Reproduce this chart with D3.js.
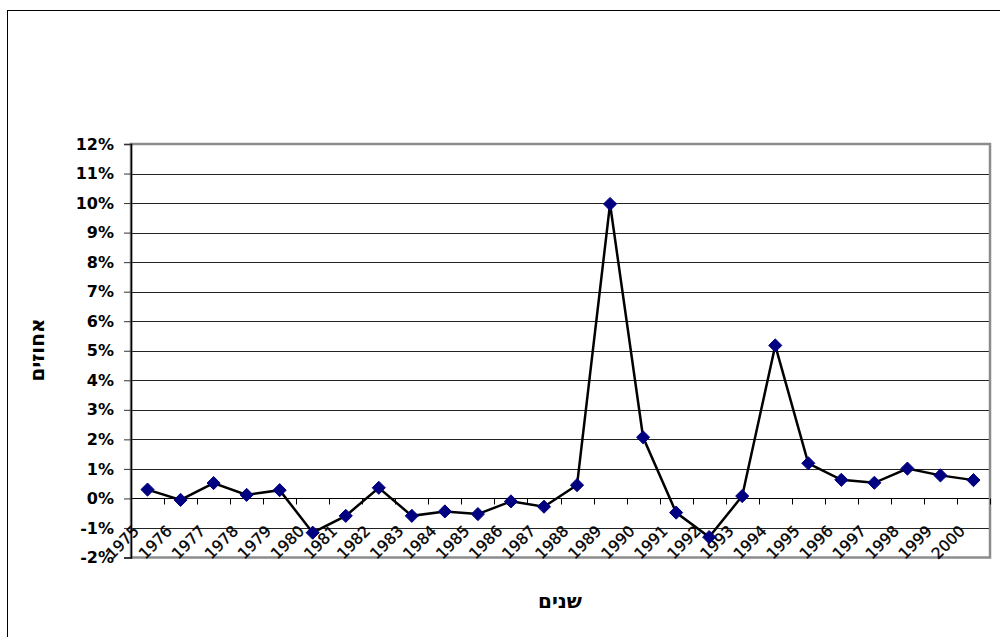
<!DOCTYPE html>
<html>
<head>
<meta charset="utf-8">
<script src="https://cdn.jsdelivr.net/npm/d3@7"></script>
<style>
  html, body { margin: 0; padding: 0; background: #fff; }
  svg { display: block; }
</style>
</head>
<body>
<svg id="chart" width="1000" height="637"></svg>
<script>
// Annual change, percent
const years = ["1975","1976","1977","1978","1979","1980","1981","1982","1983","1984","1985","1986","1987",
  "1988","1989","1990","1991","1992","1993","1994","1995","1996","1997","1998","1999","2000"];
const values = [0.30, -0.05, 0.52, 0.12, 0.28, -1.16, -0.59, 0.36, -0.59, -0.44, -0.53, -0.10, -0.28,
  0.45, 9.97, 2.07, -0.48, -1.31, 0.08, 5.18, 1.19, 0.63, 0.53, 1.01, 0.78, 0.62];
const yTicks = [-2, -1, 0, 1, 2, 3, 4, 5, 6, 7, 8, 9, 10, 11, 12];
const xTitle = "שנים";
const yTitle = "אחוזים";

const svg = d3.select("#chart");
const plot = { left: 131, right: 990, top: 144, bottom: 557.5 };
const font = "'DejaVu Sans', 'Liberation Sans', sans-serif";

// outer chart frame
svg.append("rect")
  .attr("x", 7.5).attr("y", 10.5).attr("width", 1000).attr("height", 700)
  .attr("fill", "none").attr("stroke", "#000").attr("stroke-width", 1);

const x = d3.scaleBand().domain(years).range([plot.left, plot.right]).padding(0);
const y = d3.scaleLinear().domain([-2, 12]).range([plot.bottom, plot.top]);

// horizontal gridlines
svg.append("g").selectAll("line")
  .data(yTicks.filter(d => d > -2 && d < 12))
  .join("line")
  .attr("x1", plot.left).attr("x2", plot.right)
  .attr("y1", d => Math.round(y(d)) + 0.5).attr("y2", d => Math.round(y(d)) + 0.5)
  .attr("stroke", d => d === 0 ? "#000" : "#222").attr("stroke-width", 1);

// plot area border
svg.append("rect")
  .attr("x", plot.left).attr("y", plot.top)
  .attr("width", plot.right - plot.left).attr("height", plot.bottom - plot.top)
  .attr("fill", "none").attr("stroke", "#8c8c8c").attr("stroke-width", 2.5);

// value axis
const yAxis = svg.append("g")
  .attr("transform", `translate(${plot.left},0)`)
  .call(d3.axisLeft(y).tickValues(yTicks).tickFormat(d => d + "%").tickSize(7).tickPadding(10));
yAxis.select(".domain").attr("stroke", "#000").attr("stroke-width", 1.5);
yAxis.selectAll(".tick line").attr("stroke", "#333");
yAxis.selectAll(".tick text")
  .attr("font-family", font).attr("font-size", 16).attr("font-weight", "bold").attr("fill", "#000");

// category axis at 0%
const y0 = Math.round(y(0)) + 0.5;
const bounds = years.map(d => x(d)).concat([plot.right]);
svg.append("g").selectAll("line")
  .data(bounds)
  .join("line")
  .attr("x1", d => Math.round(d) + 0.5).attr("x2", d => Math.round(d) + 0.5)
  .attr("y1", y0).attr("y2", y0 + 6)
  .attr("stroke", "#000").attr("stroke-width", 1);

svg.append("g").selectAll("text")
  .data(years)
  .join("text")
  .attr("transform", d => `translate(${x(d) + x.bandwidth() / 2 - 11},${y0 + 30}) rotate(-45)`)
  .attr("text-anchor", "end")
  .attr("dominant-baseline", "central")
  .attr("font-family", font).attr("font-size", 15.5).attr("fill", "#000")
  .attr("stroke", "#000").attr("stroke-width", 0.3)
  .text(d => d);

// series line and diamond markers
const cx = d => x(d) + x.bandwidth() / 2;
const line = d3.line().x((d, i) => cx(years[i])).y(d => y(d));
svg.append("path")
  .datum(values)
  .attr("d", line)
  .attr("fill", "none").attr("stroke", "#000").attr("stroke-width", 2.5)
  .attr("stroke-linejoin", "miter");

const diamond = d3.symbol().type(d3.symbolDiamond2).size(110);
svg.append("g").selectAll("path")
  .data(values)
  .join("path")
  .attr("transform", (d, i) => `translate(${cx(years[i])},${y(d)})`)
  .attr("d", diamond)
  .attr("fill", "#000080").attr("stroke", "#000080").attr("stroke-width", 1);

// axis titles
svg.append("text")
  .attr("x", 560).attr("y", 608)
  .attr("text-anchor", "middle")
  .attr("font-family", font).attr("font-size", 20).attr("font-weight", "bold")
  .text(xTitle);

svg.append("text")
  .attr("transform", "translate(44,350) rotate(-90)")
  .attr("text-anchor", "middle")
  .attr("font-family", font).attr("font-size", 20).attr("font-weight", "bold")
  .text(yTitle);
</script>
</body>
</html>
